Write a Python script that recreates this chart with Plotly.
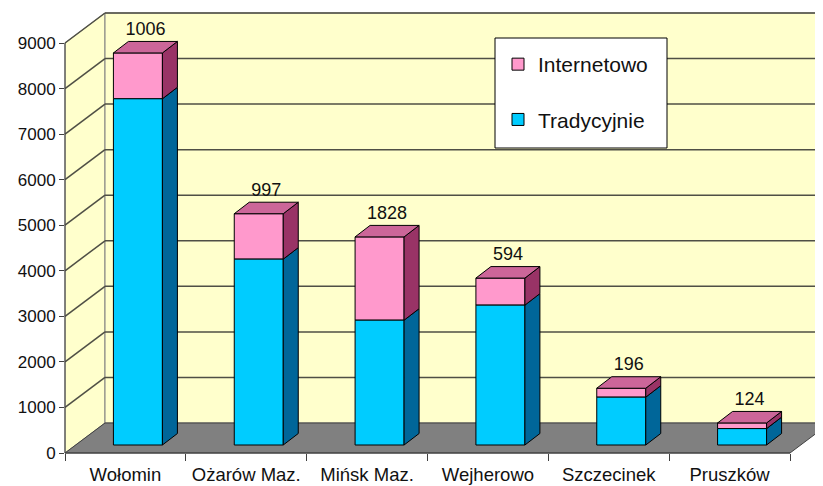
import plotly.graph_objects as go

# ---------------- data ----------------
categories = ["Wołomin", "Ożarów Maz.", "Mińsk Maz.", "Wejherowo", "Szczecinek", "Pruszków"]
tradycyjnie = [7600, 4080, 2740, 3070, 1050, 360]
internetowo = [1006, 997, 1828, 594, 196, 124]
y_ticks = [0, 1000, 2000, 3000, 4000, 5000, 6000, 7000, 8000, 9000]

# ---------------- geometry (pixels, window frame) ----------------
PAGE_OFF = 8                         # default body margin of the html page
WIN_W, WIN_H = 823, 486
W, H = WIN_W - PAGE_OFF, WIN_H - PAGE_OFF
X0, X1 = 65 - PAGE_OFF, 790 - PAGE_OFF   # front edge of floor
Y0, YTOP = 453 - PAGE_OFF, 43 - PAGE_OFF  # rows of 0 and of max value
YMAX = y_ticks[-1]
n = len(categories)
ux = (X1 - X0) / n        # px per category
uy = (Y0 - YTOP) / YMAX   # px per value unit


def du(px):
    return px / ux


def dv(px):
    return px / uy


def pxx(px):
    return (px - PAGE_OFF) / W


def pxy(py):
    return 1 - (py - PAGE_OFF) / H


wall_dx, wall_dy = du(40), dv(30)
bar_off_x, bar_off_y = du(12.5), dv(8)
bar_w = du(49)
depth_x, depth_y = du(15), dv(11.5)
label_gap = dv(11)

FONT = "Arial, 'Liberation Sans', sans-serif"
BLUE, BLUE_SIDE = "#00CCFF", "#006699"
PINK, PINK_SIDE, PINK_TOP = "#FF99CC", "#993366", "#CC6699"
WALL, FLOOR, GRID = "#FFFFCC", "#808080", "#4f4f45"

fig = go.Figure()

# invisible trace so the visible axes (x, y) render
fig.add_trace(go.Scatter(x=categories, y=[0] * n, mode="markers",
                         marker=dict(opacity=0), showlegend=False,
                         hoverinfo="skip", xaxis="x", yaxis="y"))

# ---- front faces (bars) ----
xc = [i + bar_off_x for i in range(n)]
fig.add_trace(go.Bar(x=xc, y=internetowo,
                     base=[bar_off_y + t for t in tradycyjnie],
                     width=bar_w, name="Internetowo", legendgroup="a",
                     marker=dict(color=PINK, line=dict(color="black", width=1)),
                     xaxis="x2", yaxis="y2", hoverinfo="skip"))
fig.add_trace(go.Bar(x=xc, y=tradycyjnie, base=[bar_off_y] * n,
                     width=bar_w, name="Tradycyjnie", legendgroup="b",
                     marker=dict(color=BLUE, line=dict(color="black", width=1)),
                     xaxis="x2", yaxis="y2", hoverinfo="skip"))


def side_poly(lows, highs):
    xs, ys = [], []
    for i in range(n):
        xr = xc[i] + bar_w / 2
        y0, y1 = lows[i], highs[i]
        xs += [xr, xr + depth_x, xr + depth_x, xr, xr, None]
        ys += [y0, y0 + depth_y, y1 + depth_y, y1, y0, None]
    return xs, ys


def top_poly(tops):
    xs, ys = [], []
    for i in range(n):
        xl, xr = xc[i] - bar_w / 2, xc[i] + bar_w / 2
        yt = tops[i]
        xs += [xl, xr, xr + depth_x, xl + depth_x, xl, None]
        ys += [yt, yt, yt + depth_y, yt + depth_y, yt, None]
    return xs, ys


base_lo = [bar_off_y] * n
mid = [bar_off_y + t for t in tradycyjnie]
top = [m + v for m, v in zip(mid, internetowo)]

for (xs, ys), col in [(side_poly(base_lo, mid), BLUE_SIDE),
                      (side_poly(mid, top), PINK_SIDE),
                      (top_poly(top), PINK_TOP)]:
    fig.add_trace(go.Scatter(x=xs, y=ys, mode="lines", fill="toself",
                             fillcolor=col, line=dict(color="black", width=1),
                             showlegend=False, hoverinfo="skip",
                             xaxis="x2", yaxis="y2"))

# ---- data labels ----
fig.add_trace(go.Scatter(x=[x + depth_x / 2 for x in xc],
                         y=[t + depth_y + label_gap for t in top],
                         mode="text", text=[str(v) for v in internetowo],
                         textposition="middle center",
                         textfont=dict(family=FONT, size=18, color="#111"),
                         showlegend=False, hoverinfo="skip",
                         xaxis="x2", yaxis="y2", cliponaxis=False))

# ---- walls, floor, gridlines (shapes in canvas coords) ----
L, R = -0.5, n - 0.5
shapes = []
shapes.append(dict(type="path", xref="x2", yref="y2", layer="below",
                   path=f"M {L},{YMAX} L {L+wall_dx},{YMAX+wall_dy} L {L+wall_dx},{wall_dy} L {L},0 Z",
                   fillcolor=WALL, line=dict(color="#808080", width=1)))
shapes.append(dict(type="path", xref="x2", yref="y2", layer="below",
                   path=f"M {L+wall_dx},{wall_dy} L {L+wall_dx},{YMAX+wall_dy} L {R+wall_dx},{YMAX+wall_dy} L {R+wall_dx},{wall_dy} Z",
                   fillcolor=WALL, line=dict(color="#808080", width=1)))
shapes.append(dict(type="path", xref="x2", yref="y2", layer="below",
                   path=f"M {L},0 L {R},0 L {R+wall_dx},{wall_dy} L {L+wall_dx},{wall_dy} Z",
                   fillcolor=FLOOR, line=dict(color="#404040", width=1)))
for k in y_ticks[1:]:
    shapes.append(dict(type="line", xref="x2", yref="y2", layer="below",
                       x0=L, y0=k, x1=L + wall_dx, y1=k + wall_dy,
                       line=dict(color=GRID, width=1.5)))
    shapes.append(dict(type="line", xref="x2", yref="y2", layer="below",
                       x0=L + wall_dx, y0=k + wall_dy, x1=R + wall_dx, y1=k + wall_dy,
                       line=dict(color=GRID, width=1.5)))
shapes.append(dict(type="line", xref="x2", yref="y2", layer="below",
                   x0=L, y0=0, x1=L, y1=YMAX, line=dict(color="#404040", width=1)))
shapes.append(dict(type="line", xref="x2", yref="y2", layer="below",
                   x0=L, y0=0, x1=R, y1=0, line=dict(color="#404040", width=1)))
# legend frame
shapes.append(dict(type="rect", xref="paper", yref="paper", layer="above",
                   x0=pxx(495), x1=pxx(667), y0=pxy(148), y1=pxy(38),
                   fillcolor="white", line=dict(color="black", width=1)))

fig.update_layout(
    template="none",
    width=W, height=H,
    margin=dict(l=0, r=0, t=0, b=0, pad=0, autoexpand=False),
    paper_bgcolor="white", plot_bgcolor="rgba(0,0,0,0)",
    barmode="overlay", shapes=shapes,
    font=dict(family=FONT, size=17, color="#111"),
    showlegend=True,
    legend=dict(x=pxx(498), y=pxy(44), xanchor="left", yanchor="top",
                bgcolor="rgba(0,0,0,0)", borderwidth=0,
                traceorder="grouped", tracegroupgap=25,
                font=dict(family=FONT, size=21, color="#111")),
    xaxis=dict(domain=[X0 / W, X1 / W], type="category",
               categoryorder="array", categoryarray=categories,
               range=[-0.5, n - 0.5], tickson="boundaries",
               ticks="outside", ticklen=7, tickcolor="#404040",
               tickfont=dict(size=18.5), ticklabelstandoff=8,
               showline=False, showgrid=False, zeroline=False,
               automargin=False, fixedrange=True),
    yaxis=dict(domain=[(H - Y0) / H, (H - YTOP) / H], range=[0, YMAX],
               tickvals=y_ticks, ticks="outside", ticklen=5,
               tickcolor="#404040", tickfont=dict(size=17),
               showline=False, showgrid=False,
               zeroline=False, automargin=False, fixedrange=True),
    xaxis2=dict(domain=[0, 1], anchor="y2",
                range=[L - X0 / ux, L + (W - X0) / ux], visible=False,
                automargin=False, fixedrange=True),
    yaxis2=dict(domain=[0, 1], anchor="x2",
                range=[-(H - Y0) / uy, Y0 / uy], visible=False,
                automargin=False, fixedrange=True),
)

fig.write_html("out.html")
